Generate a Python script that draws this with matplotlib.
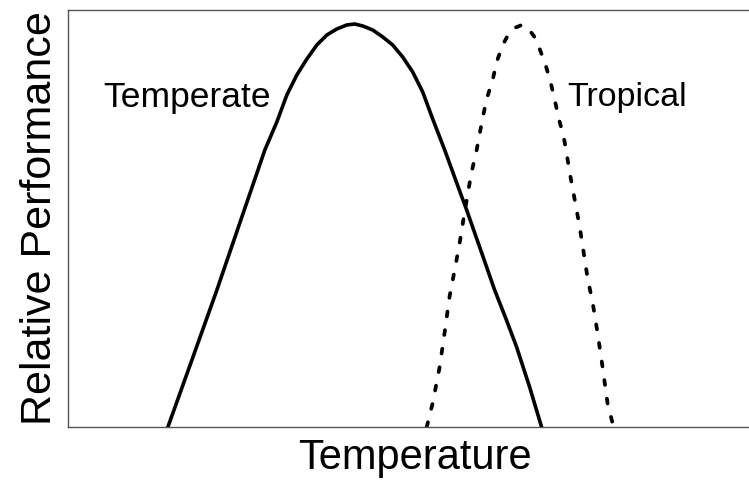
import matplotlib
matplotlib.use('Agg')
import matplotlib.pyplot as plt

plt.rcParams['font.family'] = ['Liberation Sans', 'DejaVu Sans']

# curves (temperature in arbitrary units, performance in %)
temperate_x = [14.68, 18.21, 21.88, 25.40, 28.93, 30.69, 32.16, 33.63, 35.10, 36.57, 38.04,
               39.50, 40.97, 42.14, 43.32, 44.79, 46.26, 47.72, 49.19, 50.66, 52.13, 53.60,
               55.36, 56.97, 58.59, 60.65, 62.70, 64.32, 65.93, 67.84, 69.60]
temperate_y = [0.0, 16.07, 32.85, 49.64, 66.43, 73.14, 79.61, 84.41, 88.24, 91.60, 94.00,
               95.44, 96.40, 96.64, 96.16, 95.20, 93.52, 91.60, 88.72, 85.13, 80.33, 73.86,
               66.43, 59.23, 52.04, 42.44, 32.85, 26.14, 19.18, 9.59, 0.0]

tropical_x = [52.72, 53.60, 54.62, 55.36, 56.09, 56.83, 57.56, 58.15, 58.74, 59.32, 60.06,
              60.94, 61.53, 62.41, 63.00, 63.88, 64.76, 65.64, 66.67, 67.69, 68.57, 69.16,
              70.19, 70.92, 71.51, 72.10, 72.83, 73.27, 73.72, 74.45, 75.18, 75.77, 76.36,
              77.09, 77.83, 78.56, 79.29, 80.17]
tropical_y = [0.0, 5.76, 14.39, 22.78, 31.41, 37.65, 44.12, 50.12, 55.87, 61.15, 66.43,
              74.10, 78.65, 83.21, 87.53, 91.60, 94.24, 95.68, 96.40, 95.44, 93.52, 91.36,
              86.81, 82.73, 78.65, 74.10, 69.78, 65.71, 61.15, 54.67, 48.20, 41.97, 35.73,
              29.98, 22.54, 14.39, 5.76, 0.0]

fig = plt.figure(figsize=(7.49, 4.84), dpi=100)
ax = fig.add_axes([0.0908, 0.1178, 0.9266, 0.8616])

ax.plot(temperate_x, temperate_y, color='black', lw=2.6,
        solid_capstyle='round', solid_joinstyle='round')
ax.plot(tropical_x, tropical_y, color='black', lw=2.7, linestyle=(0, (1.3, 3.7)),
        dash_capstyle='round', dash_joinstyle='round')

ax.text(5.2, 79.0, 'Temperate', fontsize=25.5, va='center', ha='left')
ax.text(73.4, 79.0, 'Tropical', fontsize=24.5, va='center', ha='left')

ax.set_xlim(0, 102)
ax.set_ylim(0, 100)
ax.set_xticks([])
ax.set_yticks([])
for s in ax.spines.values():
    s.set_color('#555555')
    s.set_linewidth(1.0)

ax.set_xlabel('Temperature', fontsize=30, labelpad=8)
ax.set_ylabel('Relative Performance', fontsize=31, labelpad=6)

fig.savefig('out.png', dpi=100)
